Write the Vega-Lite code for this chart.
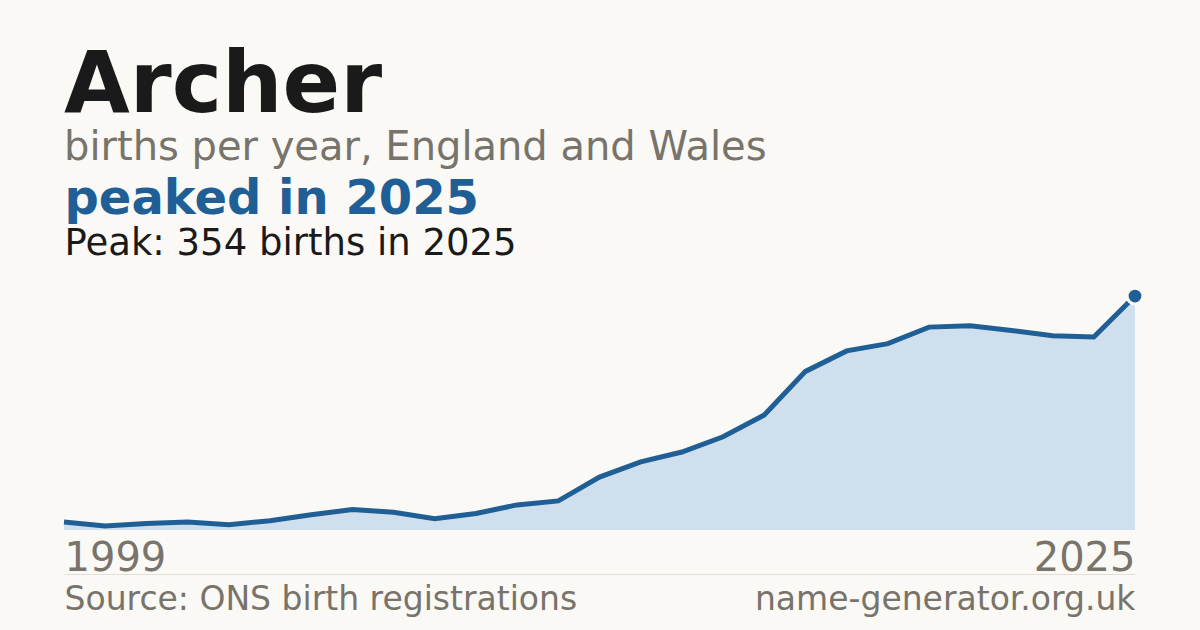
{
  "$schema": "https://vega.github.io/schema/vega-lite/v6.json",
  "width": 1200,
  "height": 630,
  "autosize": {"type": "fit", "contains": "padding"},
  "padding": {"left": 54, "right": 51, "top": 44, "bottom": 14},
  "background": "#faf9f5",
  "title": {
    "text": "Archer",
    "subtitle": "births per year, England and Wales",
    "anchor": "start",
    "frame": "group",
    "font": "DejaVu Sans",
    "fontSize": 85,
    "fontWeight": "bold",
    "color": "#1a1a1a",
    "subtitleFont": "DejaVu Sans",
    "subtitleFontSize": 40,
    "subtitleColor": "#78736b",
    "subtitlePadding": -2,
    "offset": 6
  },
  "data": {
    "values": [
      {"year": 1999, "births": 12},
      {"year": 2000, "births": 6},
      {"year": 2001, "births": 10},
      {"year": 2002, "births": 12},
      {"year": 2003, "births": 8},
      {"year": 2004, "births": 14},
      {"year": 2005, "births": 23},
      {"year": 2006, "births": 31},
      {"year": 2007, "births": 27},
      {"year": 2008, "births": 17},
      {"year": 2009, "births": 25},
      {"year": 2010, "births": 38},
      {"year": 2011, "births": 44},
      {"year": 2012, "births": 80},
      {"year": 2013, "births": 103},
      {"year": 2014, "births": 118},
      {"year": 2015, "births": 141},
      {"year": 2016, "births": 174},
      {"year": 2017, "births": 240},
      {"year": 2018, "births": 271},
      {"year": 2019, "births": 282},
      {"year": 2020, "births": 307},
      {"year": 2021, "births": 309},
      {"year": 2022, "births": 302},
      {"year": 2023, "births": 294},
      {"year": 2024, "births": 292},
      {"year": 2025, "births": 354}
    ]
  },
  "layer": [
    {
      "mark": {"type": "area", "color": "#cfdfee"},
      "encoding": {
        "x": {
          "field": "year",
          "type": "quantitative",
          "scale": {"domain": [1999, 2025], "nice": false, "zero": false},
          "axis": {
            "orient": "bottom",
            "values": [1999, 2025],
            "format": "d",
            "labelFlush": true,
            "labelFontSize": 40,
            "labelColor": "#78736b",
            "labelPadding": 8,
            "labelLimit": 0,
            "domain": false,
            "ticks": false,
            "grid": false,
            "title": null
          }
        },
        "y": {
          "field": "births",
          "type": "quantitative",
          "scale": {"domain": [0, 401], "nice": false},
          "axis": null
        }
      }
    },
    {
      "mark": {"type": "line", "color": "#1f5f96", "strokeWidth": 5},
      "encoding": {
        "x": {
          "field": "year",
          "type": "quantitative",
          "axis": {
            "orient": "bottom",
            "offset": 44,
            "values": [1999, 2025],
            "labelExpr": "datum.value == 1999 ? 'Source: ONS birth registrations' : 'name-generator.org.uk'",
            "labelFlush": true,
            "labelOverlap": false,
            "labelLimit": 0,
            "labelFontSize": 33,
            "labelColor": "#78736b",
            "labelPadding": 9,
            "domain": true,
            "domainColor": "#e3dfd7",
            "domainWidth": 1,
            "ticks": false,
            "grid": false,
            "title": null
          }
        },
        "y": {"field": "births", "type": "quantitative", "axis": null}
      }
    },
    {
      "transform": [{"filter": "datum.year == 2025"}],
      "mark": {
        "type": "point",
        "filled": true,
        "size": 250,
        "color": "#1f5f96",
        "opacity": 1,
        "stroke": "#faf9f5",
        "strokeWidth": 3
      },
      "encoding": {
        "x": {
          "field": "year",
          "type": "quantitative",
          "axis": {
            "orient": "top",
            "values": [1999],
            "labelExpr": "'Peak: 354 births in 2025'",
            "labelAlign": "left",
            "labelLimit": 0,
            "labelFontSize": 37,
            "labelColor": "#1a1a1a",
            "labelPadding": 3,
            "domain": false,
            "ticks": false,
            "grid": false,
            "title": "peaked in 2025",
            "titleAnchor": "start",
            "titleAlign": "left",
            "titleFontSize": 48,
            "titleFontWeight": "bold",
            "titleColor": "#1f5f96",
            "titlePadding": 1
          }
        },
        "y": {"field": "births", "type": "quantitative", "axis": null}
      }
    }
  ],
  "resolve": {"axis": {"x": "independent"}},
  "config": {
    "font": "DejaVu Sans",
    "view": {"stroke": null},
    "axis": {"labelFont": "DejaVu Sans", "titleFont": "DejaVu Sans"}
  }
}
